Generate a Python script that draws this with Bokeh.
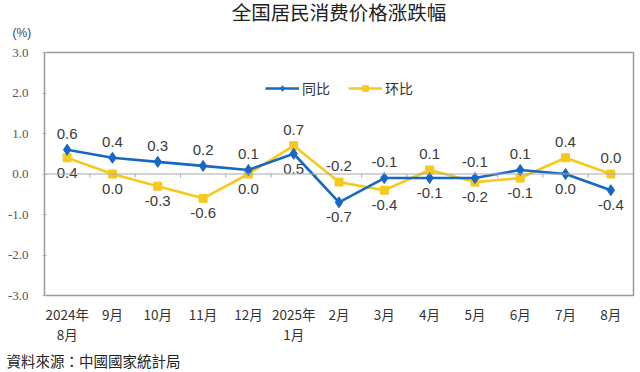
import numpy as np
from bokeh.plotting import figure
from bokeh.models import (Range1d, FixedTicker, Span, Title, Legend, LegendItem,
                          ColumnDataSource)
from bokeh.core.properties import value
from bokeh.embed import file_html
from bokeh.resources import INLINE

months = ["2024年\n8月", "9月", "10月", "11月", "12月", "2025年\n1月", "2月",
          "3月", "4月", "5月", "6月", "7月", "8月"]
yoy = [0.6, 0.4, 0.3, 0.2, 0.1, 0.5, -0.7, -0.1, -0.1, -0.1, 0.1, 0.0, -0.4]
mom = [0.4, 0.0, -0.3, -0.6, 0.0, 0.7, -0.2, -0.4, 0.1, -0.2, -0.1, 0.4, 0.0]
y_ticks = [-3.0, -2.0, -1.0, 0.0, 1.0, 2.0, 3.0]

BLUE = "#1768C4"
YELLOW = "#F7C81E"
CJK = "Noto Sans CJK SC"
NUM = "Liberation Sans"

n = len(months)
xs = list(range(n))

p = figure(width=636, height=372, output_backend="svg", toolbar_location=None,
           x_range=Range1d(-0.5, n - 0.5), y_range=Range1d(-3.0, 3.0),
           min_border_left=44, min_border_right=3, min_border_top=52,
           min_border_bottom=77)
p.grid.visible = False
p.outline_line_color = "#9a9a9a"
p.outline_line_width = 1.5
p.background_fill_color = "white"
p.border_fill_color = "white"

# axes
p.xaxis.ticker = FixedTicker(ticks=xs)
p.xaxis.major_label_overrides = {i: m for i, m in enumerate(months)}
p.xaxis.axis_line_color = None
p.xaxis.major_tick_line_color = None
p.xaxis.minor_tick_line_color = None
p.xaxis.major_label_text_font = CJK
p.xaxis.major_label_text_font_size = "13.5px"
p.xaxis.major_label_text_line_height = 1.0
p.xaxis.major_label_text_color = "#333333"
p.xaxis.major_label_standoff = 2

p.yaxis.ticker = FixedTicker(ticks=y_ticks)
p.yaxis.major_label_overrides = {t: f"{t:.1f}" for t in y_ticks}
p.yaxis.axis_line_color = None
p.yaxis.major_tick_line_color = "#b0b0b0"
p.yaxis.major_tick_in = 2
p.yaxis.major_tick_out = 2
p.yaxis.minor_tick_line_color = None
p.yaxis.major_label_text_font = "Liberation Serif"
p.yaxis.major_label_text_font_size = "13px"
p.yaxis.major_label_text_color = "#555555"
p.yaxis.major_label_standoff = 14

# zero line with category boundary ticks
p.add_layout(Span(location=0, dimension="width", line_color="#a8a8a8", line_width=1))
bounds = [i + 0.5 for i in range(n - 1)]
p.segment(x0=bounds, y0=[0] * len(bounds), x1=bounds, y1=[-0.09] * len(bounds),
          line_color="#a8a8a8", line_width=1)

# series
l_m = p.line(xs, mom, line_color=YELLOW, line_width=2.6)
s_m = p.scatter(xs, mom, marker="square", size=8, fill_color=YELLOW, line_color=YELLOW)
l_y = p.line(xs, yoy, line_color=BLUE, line_width=2.6)
s_y = p.scatter(xs, yoy, marker="diamond", size=11, fill_color=BLUE, line_color=BLUE)

# data labels: higher value above, lower below
yoy_off = [-16 if a >= b else 15 for a, b in zip(yoy, mom)]
mom_off = [-16 if b > a else 15 for a, b in zip(yoy, mom)]
src_y = ColumnDataSource(dict(x=xs, y=yoy, t=[f"{v:.1f}" for v in yoy], off=yoy_off))
src_m = ColumnDataSource(dict(x=xs, y=mom, t=[f"{v:.1f}" for v in mom], off=mom_off))
for src in (src_y, src_m):
    p.text(x="x", y="y", text="t", y_offset="off", source=src,
           text_align="center", text_baseline="middle",
           text_font=value(NUM), text_font_size="15px", text_color="#3a3a3a")

legend = Legend(items=[LegendItem(label="同比", renderers=[l_y, s_y]),
                       LegendItem(label="环比", renderers=[l_m, s_m])],
                orientation="horizontal", location=(221, 197),
                glyph_width=34, glyph_height=14, label_standoff=3, spacing=18,
                padding=0, margin=0, border_line_color=None,
                background_fill_alpha=0,
                label_text_font=CJK, label_text_font_size="14px",
                label_text_color="#333333")
p.add_layout(legend, "center")

unit_title = Title(text="(%)", align="left", offset=-32, standoff=25,
                   text_font=NUM, text_font_size="12px", text_color="#444444",
                   text_font_style="normal")
main_title = Title(text="全国居民消费价格涨跌幅", align="center", offset=11,
                   standoff=-28,
                   text_font=CJK, text_font_size="19.5px", text_color="#222222",
                   text_font_style="normal")
p.add_layout(unit_title, "above")
p.add_layout(main_title, "above")

src_title = Title(text="資料來源：中國國家統計局", align="left", offset=-38,
                  standoff=2, text_font="Noto Sans CJK TC", text_font_size="14.5px",
                  text_color="#222222", text_font_style="normal")
p.add_layout(src_title, "below")

open("out.html", "w").write(file_html(p, INLINE))
